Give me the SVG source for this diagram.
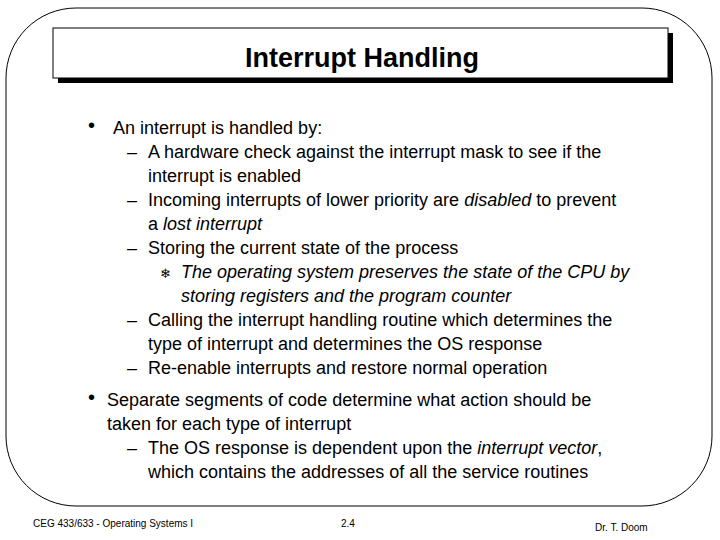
<svg xmlns="http://www.w3.org/2000/svg" width="720" height="540" viewBox="0 0 720 540">
<style>
text{font-family:"Liberation Sans",Arial,sans-serif;fill:#000}
.b{font-size:18px}
.i{font-style:italic}
.f{font-size:10px}
</style>
<rect width="720" height="540" fill="#fff"/>
<g id="frame"><rect x="6" y="8" width="706" height="498" rx="70" ry="70" fill="none" stroke="#000" stroke-width="1"/></g>
<g id="title">
<rect x="58" y="33" width="615" height="50" fill="#000"/>
<rect x="53" y="28" width="615" height="50" fill="#fff" stroke="#000" stroke-width="1"/>
<text x="362" y="67" text-anchor="middle" font-size="27" font-weight="bold">Interrupt Handling</text>
</g>
<g id="body" class="b">
<text x="88" y="132" font-size="20">•</text>
<text x="113" y="134">An interrupt is handled by:</text>
<text x="127" y="158">–</text><text x="148" y="158">A hardware check against the interrupt mask to see if the</text>
<text x="148" y="182">interrupt is enabled</text>
<text x="127" y="206">–</text><text x="148" y="206">Incoming interrupts of lower priority are <tspan class="i">disabled</tspan> to prevent</text>
<text x="148" y="230">a <tspan class="i">lost interrupt</tspan></text>
<text x="127" y="254">–</text><text x="148" y="254">Storing the current state of the process</text>
<text x="160" y="278" font-size="13">❄</text>
<text x="181" y="278" class="i">The operating system preserves the state of the CPU by</text>
<text x="181" y="302" class="i">storing registers and the program counter</text>
<text x="127" y="326">–</text><text x="148" y="326">Calling the interrupt handling routine which determines the</text>
<text x="148" y="350">type of interrupt and determines the OS response</text>
<text x="127" y="374">–</text><text x="148" y="374">Re-enable interrupts and restore normal operation</text>
<text x="88" y="404" font-size="20">•</text>
<text x="107" y="406">Separate segments of code determine what action should be</text>
<text x="107" y="430">taken for each type of interrupt</text>
<text x="127" y="454">–</text><text x="148" y="454">The OS response is dependent upon the <tspan class="i">interrupt vector</tspan>,</text>
<text x="148" y="478">which contains the addresses of all the service routines</text>
</g>
<g id="footer" class="f">
<text x="33" y="527">CEG 433/633 - Operating Systems I</text>
<text x="341" y="527">2.4</text>
<text x="595" y="531">Dr. T. Doom</text>
</g>
</svg>
